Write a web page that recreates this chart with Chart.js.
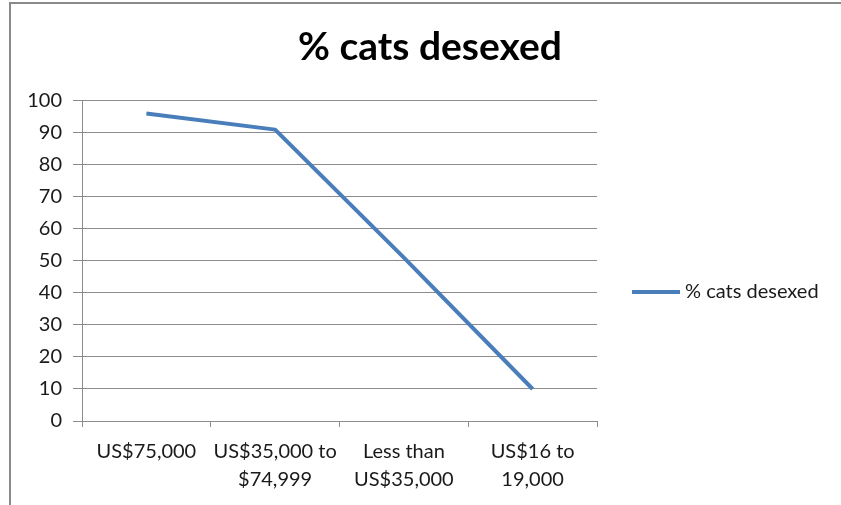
<!DOCTYPE html>
<html>
<head>
<meta charset="utf-8">
<script src="https://cdn.jsdelivr.net/npm/chart.js@4"></script>
<style>
  html, body { margin: 0; padding: 0; background: #fff; }
  #wrap { position: relative; width: 841px; height: 505px; overflow: hidden; }
  #frame { position: absolute; left: 9px; top: 2px; width: 900px; height: 600px; border: 2px solid #8a8a8a; box-sizing: border-box; }
  canvas { position: absolute; left: 0; top: 0; }
</style>
</head>
<body>
<div id="wrap">
  <div id="frame"></div>
  <canvas id="chart" width="841" height="505"></canvas>
</div>
<script>
const categories = [
  "US$75,000",
  ["US$35,000 to", "$74,999"],
  ["Less than", "US$35,000"],
  ["US$16 to", "19,000"]
];
const desexed = [96, 91, 51, 10];
const yTicks = [0, 10, 20, 30, 40, 50, 60, 70, 80, 90, 100];
const seriesName = "% cats desexed";

const gridGrey = "#8c8c8c";
const textColor = "#1a1a1a";

// legend sits in the empty band right of the plot, like Excel's
const sideLegend = {
  id: "sideLegend",
  afterDraw(chart) {
    const ctx = chart.ctx;
    const ds = chart.data.datasets[0];
    const y = 292;
    ctx.save();
    ctx.strokeStyle = ds.borderColor;
    ctx.lineWidth = ds.borderWidth;
    ctx.beginPath();
    ctx.moveTo(632, y);
    ctx.lineTo(680, y);
    ctx.stroke();
    ctx.fillStyle = textColor;
    ctx.font = "20px Lato";
    ctx.textBaseline = "middle";
    ctx.fillText(ds.label, 685, y);
    ctx.restore();
  }
};

new Chart(document.getElementById("chart"), {
  type: "line",
  data: {
    labels: categories,
    datasets: [{
      label: seriesName,
      data: desexed,
      borderColor: "#4a7ebb",
      borderWidth: 4,
      pointRadius: 0,
      borderJoinStyle: "round",
      tension: 0,
      fill: false
    }]
  },
  options: {
    responsive: false,
    animation: false,
    layout: { padding: { top: 10, left: 19, right: 0, bottom: 0 } },
    plugins: {
      tooltip: { enabled: false },
      legend: { display: false },
      title: {
        display: true,
        text: seriesName,
        color: "#000",
        font: { family: "Lato", size: 39, weight: "bold", lineHeight: 1.2 },
        padding: { top: 14, bottom: 30 }
      }
    },
    scales: {
      x: {
        offset: true,
        grid: { offset: true, drawOnChartArea: false, drawTicks: true, tickLength: 6, color: gridGrey },
        border: { color: gridGrey },
        ticks: { color: textColor, font: { family: "Lato", size: 20, lineHeight: 1.4 }, padding: 11, maxRotation: 0, autoSkip: false },
        afterFit: (s) => { s.height = 84; }
      },
      y: {
        min: 0,
        max: 100,
        afterBuildTicks: (s) => { s.ticks = yTicks.map(v => ({ value: v })); },
        grid: { color: gridGrey, tickLength: 9 },
        border: { color: gridGrey },
        ticks: { color: textColor, font: { family: "Lato", size: 20 }, padding: 11 },
        afterFit: (s) => { s.width = 63; }
      },
      // empty right-hand axis, only reserves room for the legend
      side: {
        position: "right",
        grid: { display: false },
        border: { display: false },
        ticks: { display: false },
        afterFit: (s) => { s.width = 244; }
      }
    }
  },
  plugins: [sideLegend]
});
</script>
</body>
</html>
